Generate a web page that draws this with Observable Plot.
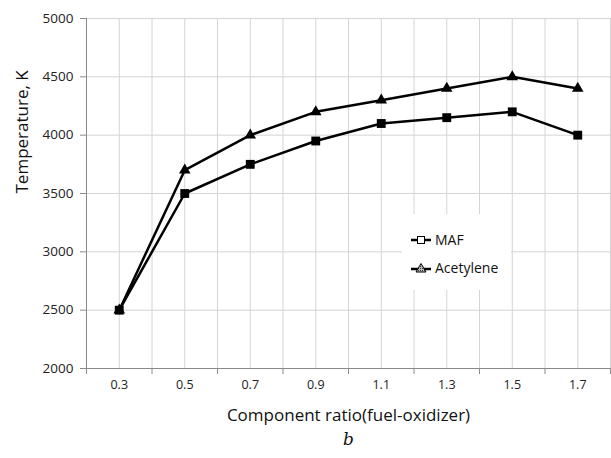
<!DOCTYPE html>
<html>
<head>
<meta charset="utf-8">
<script src="https://cdn.jsdelivr.net/npm/d3@7"></script>
<script src="https://cdn.jsdelivr.net/npm/@observablehq/plot@0.6"></script>
<style>
  html, body { margin: 0; padding: 0; background: #fff; }
  #wrap { position: relative; width: 611px; height: 458px; font-family: "Open Sans", "Liberation Sans", sans-serif; }
  #legend { position: absolute; left: 402px; top: 214px; width: 109px; height: 76px; background: #fff; }
  .item { position: absolute; left: 8px; display: flex; align-items: center; font-size: 14px; color: #111; }
  .item svg { margin-right: 3px; }
</style>
</head>
<body>
<div id="wrap"></div>
<script>
const categories = [0.3, 0.5, 0.7, 0.9, 1.1, 1.3, 1.5, 1.7];
const maf = [2500, 3500, 3750, 3950, 4100, 4150, 4200, 4000];
const acetylene = [2500, 3700, 4000, 4200, 4300, 4400, 4500, 4400];
const seriesNames = ["MAF", "Acetylene"];
const yTicks = [2000, 2500, 3000, 3500, 4000, 4500, 5000];
const xLabelTicks = [0.3, 0.5, 0.7, 0.9, 1.1, 1.3, 1.5, 1.7];
const xMarkTicks = [0.2, 0.4, 0.6, 0.8, 1.0, 1.2, 1.4, 1.6, 1.8];
const xGrid = [0.3, 0.4, 0.5, 0.6, 0.7, 0.8, 0.9, 1.0, 1.1, 1.2, 1.3, 1.4, 1.5, 1.6, 1.7, 1.8];

const rows = [];
categories.forEach((c, i) => {
  rows.push({x: c, y: maf[i], s: seriesNames[0]});
  rows.push({x: c, y: acetylene[i], s: seriesNames[1]});
});
const mafRows = rows.filter(d => d.s === "MAF");
const aceRows = rows.filter(d => d.s === "Acetylene");

const font = "'Open Sans', 'Liberation Sans', sans-serif";
const chart = Plot.plot({
  width: 611,
  height: 458,
  marginTop: 18,
  marginBottom: 90,
  marginLeft: 86,
  marginRight: 1,
  style: {fontFamily: font, fontSize: "12.5px", color: "#222", background: "#fff"},
  x: {domain: [0.2, 1.8]},
  y: {domain: [2000, 5000]},
  marks: [
    Plot.gridX(xGrid, {stroke: "#d4d4d4", strokeOpacity: 1, strokeWidth: 1}),
    Plot.gridY(yTicks, {stroke: "#d4d4d4", strokeOpacity: 1, strokeWidth: 1}),
    Plot.ruleX([0.2], {stroke: "#8a8a8a"}),
    Plot.ruleY([2000], {stroke: "#8a8a8a"}),
    Plot.axisY(yTicks, {tickSize: 6, tickPadding: 7, stroke: "#8a8a8a", label: null, fill: "#222", fontSize: 13.5, tickFormat: d => String(d)}),
    Plot.axisX(xMarkTicks, {tickSize: 6, tickFormat: () => "", stroke: "#8a8a8a", label: null}),
    Plot.axisX(xLabelTicks, {tickSize: 0, tickPadding: 12, tickFormat: d => d.toFixed(1), label: null, fill: "#222"}),
    Plot.line(mafRows, {x: "x", y: "y", stroke: "#000", strokeWidth: 2.5}),
    Plot.line(aceRows, {x: "x", y: "y", stroke: "#000", strokeWidth: 2.5}),
    Plot.dot(mafRows, {x: "x", y: "y", symbol: "square", r: 5, fill: "#000", stroke: "none"}),
    Plot.dot(aceRows, {x: "x", y: "y", symbol: "triangle", r: 4.3, fill: "#000", stroke: "none"}),
    Plot.text(["Temperature, K"], {frameAnchor: "left", dx: -64, rotate: -90, fontSize: 17, fill: "#111"}),
    Plot.text(["Component ratio(fuel-oxidizer)"], {frameAnchor: "bottom", dy: 52, fontSize: 17, fill: "#111"}),
    Plot.text(["b"], {frameAnchor: "bottom", dy: 76, fontSize: 17, fontStyle: "italic", fontFamily: "'DejaVu Serif', serif", fill: "#111"})
  ]
});
const wrap = document.getElementById("wrap");
wrap.appendChild(chart);

const legend = document.createElement("div");
legend.id = "legend";
legend.innerHTML = `
<div class="item" style="top:16px"><svg width="22" height="12"><line x1="1" x2="21" y1="6" y2="6" stroke="#000" stroke-width="2.5"/><rect x="7.5" y="2.5" width="7" height="7" fill="#fff" stroke="#000" stroke-width="1"/></svg>${seriesNames[0]}</div>
<div class="item" style="top:44px"><svg width="22" height="12"><defs><pattern id="h" width="2" height="2" patternUnits="userSpaceOnUse"><rect width="2" height="2" fill="#bbb"/><rect width="1" height="1" fill="#333"/></pattern></defs><line x1="1" x2="21" y1="7" y2="7" stroke="#000" stroke-width="2.5"/><path d="M11,1.5 L16,10 L6,10 Z" fill="url(#h)" stroke="#000" stroke-width="1"/></svg>${seriesNames[1]}</div>`;
wrap.appendChild(legend);
</script>
</body>
</html>
